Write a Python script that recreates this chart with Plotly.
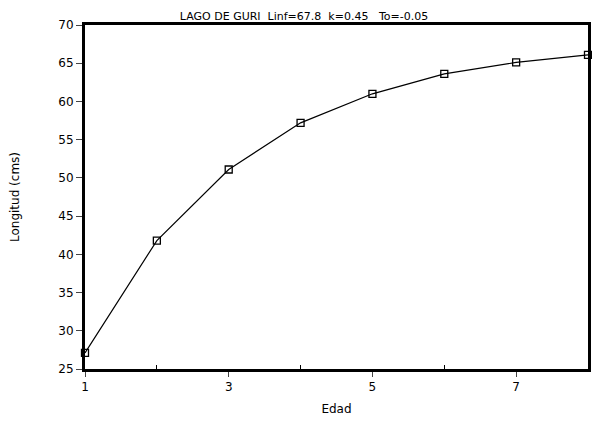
import plotly.graph_objects as go

edad = [1, 2, 3, 4, 5, 6, 7, 8]
longitud = [27.1, 41.8, 51.1, 57.2, 61.0, 63.6, 65.1, 66.1]
x_ticks = [1, 3, 5, 7]
x_minor = [2, 4, 6]
y_ticks = [25, 30, 35, 40, 45, 50, 55, 60, 65, 70]

fig = go.Figure()
fig.add_trace(go.Scatter(
    x=edad, y=longitud, mode="lines+markers",
    line=dict(color="black", width=1.2),
    marker=dict(symbol="square-open", size=7, color="black", line=dict(width=1.3)),
    cliponaxis=False, showlegend=False))

fam = "DejaVu Sans, Verdana, sans-serif"
font = dict(family=fam, size=12, color="black")
fig.update_layout(
    width=592, height=419,
    margin=dict(l=77, r=12, t=17, b=54),
    paper_bgcolor="white", plot_bgcolor="white",
    font=font,
    title=dict(text="LAGO DE GURI  Linf=67.8  k=0.45   To=-0.05", x=0.5, xanchor="center",
               y=0.99, yanchor="top", font=dict(size=11, color="black", family=fam)),
    xaxis=dict(range=[1, 8], tickvals=x_ticks, ticks="outside", ticklen=5, tickwidth=1,
               showline=True, linecolor="black", linewidth=3, mirror=True, showgrid=False,
               zeroline=False, title=dict(text="Edad", font=dict(size=12), standoff=12),
               minor=dict(tickvals=x_minor, ticks="inside", ticklen=4, tickcolor="black")),
    yaxis=dict(range=[25, 70], tickvals=y_ticks, ticks="outside", ticklen=6, tickwidth=1,
               showline=True, linecolor="black", linewidth=3, mirror=True, showgrid=False,
               zeroline=False, automargin=False,
               title=dict(text="Longitud (cms)", font=dict(size=12), standoff=40)),
)
fig.write_html("out.html")
